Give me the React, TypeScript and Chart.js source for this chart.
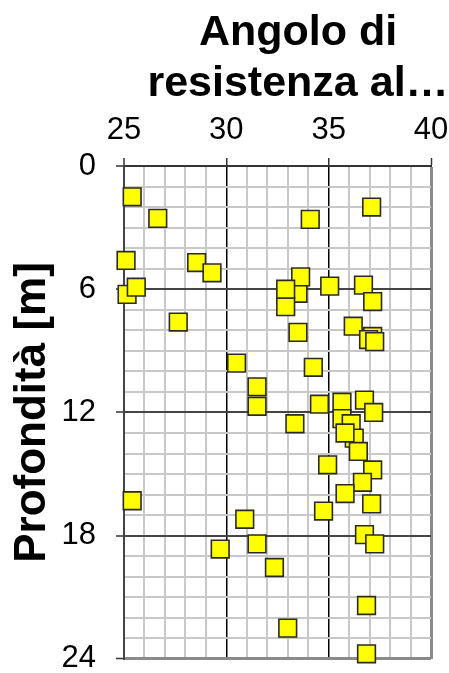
import React, { useEffect, useRef } from 'react';
import { Chart, registerables } from 'chart.js';

Chart.register(...registerables);

const titleLines = ['Angolo di', 'resistenza al…'];
const yAxisTitle = 'Profondità [m]';
const xTickLabels = [25, 30, 35, 40];
const yTickLabels = [0, 6, 12, 18, 24];

// Angolo di resistenza al taglio [°]
const angle = [
  25.4, 26.65, 37.1, 34.1, 25.1, 28.55, 29.3, 25.15, 25.6, 33.5,
  33.63, 32.9, 32.9, 35.05, 36.7, 37.15, 27.65, 33.5, 36.2, 37.15,
  36.95, 37.25, 30.5, 34.25, 31.5, 31.5, 34.55, 35.65, 36.75, 37.2,
  33.35, 35.65, 36.1, 36.25, 35.8, 36.45, 34.95, 37.15, 36.65, 35.8,
  37.1, 34.75, 25.4, 30.9, 29.7, 31.5, 36.75, 37.25, 32.35, 36.85,
  33.0, 36.85,
];
// Profondità [m]
const depth = [
  1.5, 2.55, 2.0, 2.6, 4.6, 4.7, 5.2, 6.25, 5.9, 6.2,
  5.4, 6.85, 6.0, 5.85, 5.8, 6.6, 7.6, 8.1, 7.8, 8.3,
  8.45, 8.55, 9.6, 9.8, 10.75, 11.7, 11.6, 11.5, 11.4, 12.0,
  12.55, 12.3, 12.55, 13.25, 13.0, 13.9, 14.55, 14.8, 15.4, 15.95,
  16.45, 16.8, 16.3, 17.2, 18.65, 18.4, 17.95, 18.4, 19.55, 21.4,
  22.5, 23.75,
];

const FONT = '"Liberation Sans", Arial, Helvetica, sans-serif';

export default function App() {
  const ref = useRef<HTMLCanvasElement>(null);

  useEffect(() => {
    if (!ref.current) return;
    const titlePlugin = {
      id: 'customTitle',
      afterDraw(chart: any) {
        const ctx = chart.ctx;
        ctx.save();
        ctx.font = `bold 43px ${FONT}`;
        ctx.fillStyle = '#000';
        ctx.textAlign = 'center';
        ctx.textBaseline = 'alphabetic';
        titleLines.forEach((line, i) => ctx.fillText(line, 298, 45 + i * 51));
        ctx.restore();
      },
    };

    const chart = new Chart(ref.current, {
      type: 'scatter',
      data: {
        datasets: [
          {
            data: angle.map((a, i) => ({ x: a, y: depth[i] })),
            pointStyle: 'rect',
            radius: 12.5,
            hoverRadius: 12.5,
            backgroundColor: '#ffff00',
            borderColor: '#2a2a2a',
            borderWidth: 1.6,
            clip: false as any,
          },
        ],
      },
      options: {
        responsive: false,
        animation: false,
        layout: { padding: { left: 0, top: 0, right: 18, bottom: 11 } },
        plugins: {
          legend: { display: false },
          title: { display: false },
          tooltip: { enabled: false },
        },
        scales: {
          x: {
            type: 'linear',
            position: 'top',
            min: 25,
            max: 40,
            afterFit: (s: any) => {
              s.height = 166;
              s.paddingLeft = 0;
              s.paddingRight = 0;
            },
            ticks: {
              stepSize: 1,
              autoSkip: false,
              maxRotation: 0,
              minRotation: 0,
              padding: 9,
              color: '#000',
              font: { family: FONT, size: 31 },
              callback: (v: any) => (xTickLabels.includes(Number(v)) ? String(v) : ''),
            },
            grid: {
              color: (c: any) => {
                const v = c.tick?.value;
                if (v === 40) return '#8a8a8a';
                if (v === 25) return '#444';
                if (v % 5 === 0) return '#000';
                return '#c8c8c8';
              },
              lineWidth: (c: any) => {
                const v = c.tick?.value;
                if (v === 40) return 3;
                if (v === 25) return 2;
                if (v % 5 === 0) return 1.5;
                return 2;
              },
              tickColor: (c: any) => (c.tick?.value % 5 === 0 ? '#333' : 'rgba(0,0,0,0)'),
              tickWidth: 1.5,
              tickLength: 8,
            },
            border: { display: true, color: '#333', width: 2 },
          },
          y: {
            type: 'linear',
            position: 'left',
            reverse: true,
            min: 0,
            max: 24,
            afterFit: (s: any) => {
              s.width = 124;
              s.paddingTop = 0;
              s.paddingBottom = 0;
            },
            ticks: {
              stepSize: 1,
              autoSkip: false,
              padding: 20,
              color: '#000',
              font: { family: FONT, size: 31 },
              callback: (v: any) => (yTickLabels.includes(Number(v)) ? String(v) : ''),
            },
            title: {
              display: true,
              text: yAxisTitle,
              color: '#000',
              font: { family: FONT, size: 44, weight: 'bold' },
              padding: { top: 6, bottom: 0 },
            },
            grid: {
              color: (c: any) => {
                const v = c.tick?.value;
                if (v === 24) return '#8a8a8a';
                if (v === 0) return '#333';
                if (v % 6 === 0) return '#444';
                return '#c8c8c8';
              },
              lineWidth: (c: any) => {
                const v = c.tick?.value;
                if (v === 24) return 3;
                return 2;
              },
              tickColor: (c: any) => (c.tick?.value % 6 === 0 ? '#333' : 'rgba(0,0,0,0)'),
              tickWidth: 1.5,
              tickLength: 8,
            },
            border: { display: true, color: '#444', width: 2 },
          },
        },
      },
      plugins: [titlePlugin],
    });
    return () => chart.destroy();
  }, []);

  return (
    <div style={{ position: 'absolute', left: 0, top: 0, width: 449, height: 673, background: '#fff' }}>
      <canvas ref={ref} width={449} height={673} style={{ display: 'block' }} />
    </div>
  );
}
